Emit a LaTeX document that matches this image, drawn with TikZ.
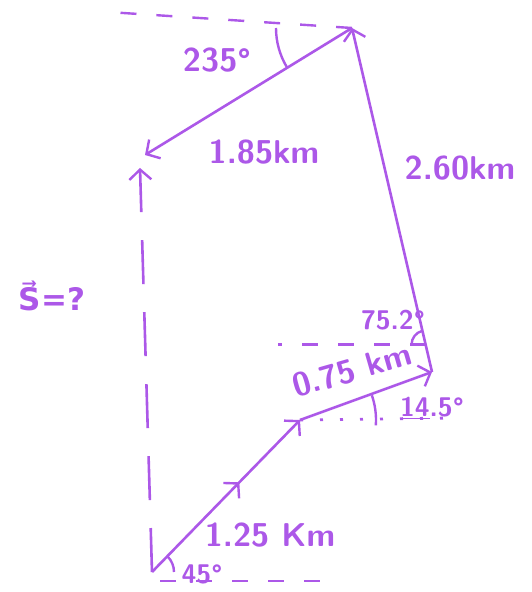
\documentclass[tikz,border=0pt]{standalone}
\usepackage{fontspec}
\usepackage{tikz}
\usetikzlibrary{
    arrows.meta,
    calc,
    positioning,
    decorations.markings
}
\newfontfamily\symfont{DejaVu Sans}
\definecolor{pen}{RGB}{172,88,232}
\tikzset{
    line cap=round,
    line join=round,
    barb/.style={
        -{Straight Barb[length=10pt, width=22pt, line width=2.4pt]}
    },
    vector/.style={
        barb,
        draw=pen,
        line width=2.6pt
    },
    midarrow/.style={
        postaction={decorate},
        decoration={markings,
            mark=at position 0.59 with {\arrow{Straight Barb[length=10pt, width=22pt, line width=2.4pt]}}}
    },
    resultant/.style={
        barb,
        draw=pen,
        line width=2.6pt,
        dash pattern=on 44pt off 28pt
    },
    refline/.style={
        -,
        draw=pen,
        line width=2.4pt,
        dash pattern=on 16pt off 20pt
    },
    dotline/.style={
        -,
        draw=pen,
        line width=2.8pt,
        dash pattern=on 3pt off 17pt
    },
    anglearc/.style={
        draw=pen,
        line width=2.4pt
    },
    hand/.style={
        font=\sffamily\bfseries\fontsize{33}{38}\selectfont,
        text=pen,
        inner sep=1pt
    },
    handsmall/.style={
        hand,
        font=\sffamily\bfseries\fontsize{27}{31}\selectfont
    }
}
\begin{document}
\begin{tikzpicture}[x=1pt, y=1pt]
    \useasboundingbox (0,0) rectangle (532,592);

    % Tips of the vectors
    \coordinate (O) at (152,20);
    \coordinate (A) at (300,172);
    \coordinate (B) at (432,220);
    \coordinate (C) at (352,564);
    \coordinate (D) at (145,437);
    \coordinate (R) at (140,424);

    % Reference lines
    \coordinate (Ostart) at (160,11);
    \coordinate (Oend) at (335,11);
    \coordinate (Aend) at (452,174);
    \coordinate (Bh) at ($(B)!0.08!(C)$);
    \coordinate (Bend) at (278,247);
    \coordinate (Cend) at (108,580);
    \draw[refline] (Ostart) -- (Oend);
    \draw[dotline] (A) -- (Aend);
    \draw[refline] (Bh) -- (Bend |- Bh);
    \draw[refline] (C) -- (Cend);

    % Vectors
    \draw[vector, midarrow] (O) -- (A);
    \draw[vector] (A) -- (B);
    \draw[vector] (B) -- (C);
    \draw[vector] (C) -- (D);

    % Resultant
    \draw[resultant] (O) -- (R);

    % Angles
    \draw[anglearc] ([shift={(0:22)}]O) arc[start angle=0, end angle=45, radius=22];
    \draw[anglearc] ([shift={(-4:76)}]A) arc[start angle=-4, end angle=19, radius=76];
    \draw[anglearc] ([shift={(104:14)}]Bh) arc[start angle=104, end angle=180, radius=14];
    \draw[anglearc] ([shift={(180:76)}]C) arc[start angle=180, end angle=211, radius=76];

    % Labels
    \node[hand] (l1) at (270,57) {1.25 Km};
    \node[handsmall] (a1) at (202,18) {45°};
    \node[hand, rotate=16] (l2) at (352,222) {0.75 km};
    \node[handsmall] (a2) at (432,184) {\underline{14}.5°};
    \node[handsmall] (a3) at (393,272) {75.2°};
    \node[hand] (l3) at (460,424) {2.60km};
    \node[hand] (l4) at (264,440) {1.85km};
    \node[hand] (a4) at (217,532) {235°};
    \node[hand, font=\symfont\bfseries\fontsize{31}{36}\selectfont] (s) at (52,296) {S⃗=?};

\end{tikzpicture}
\end{document}
